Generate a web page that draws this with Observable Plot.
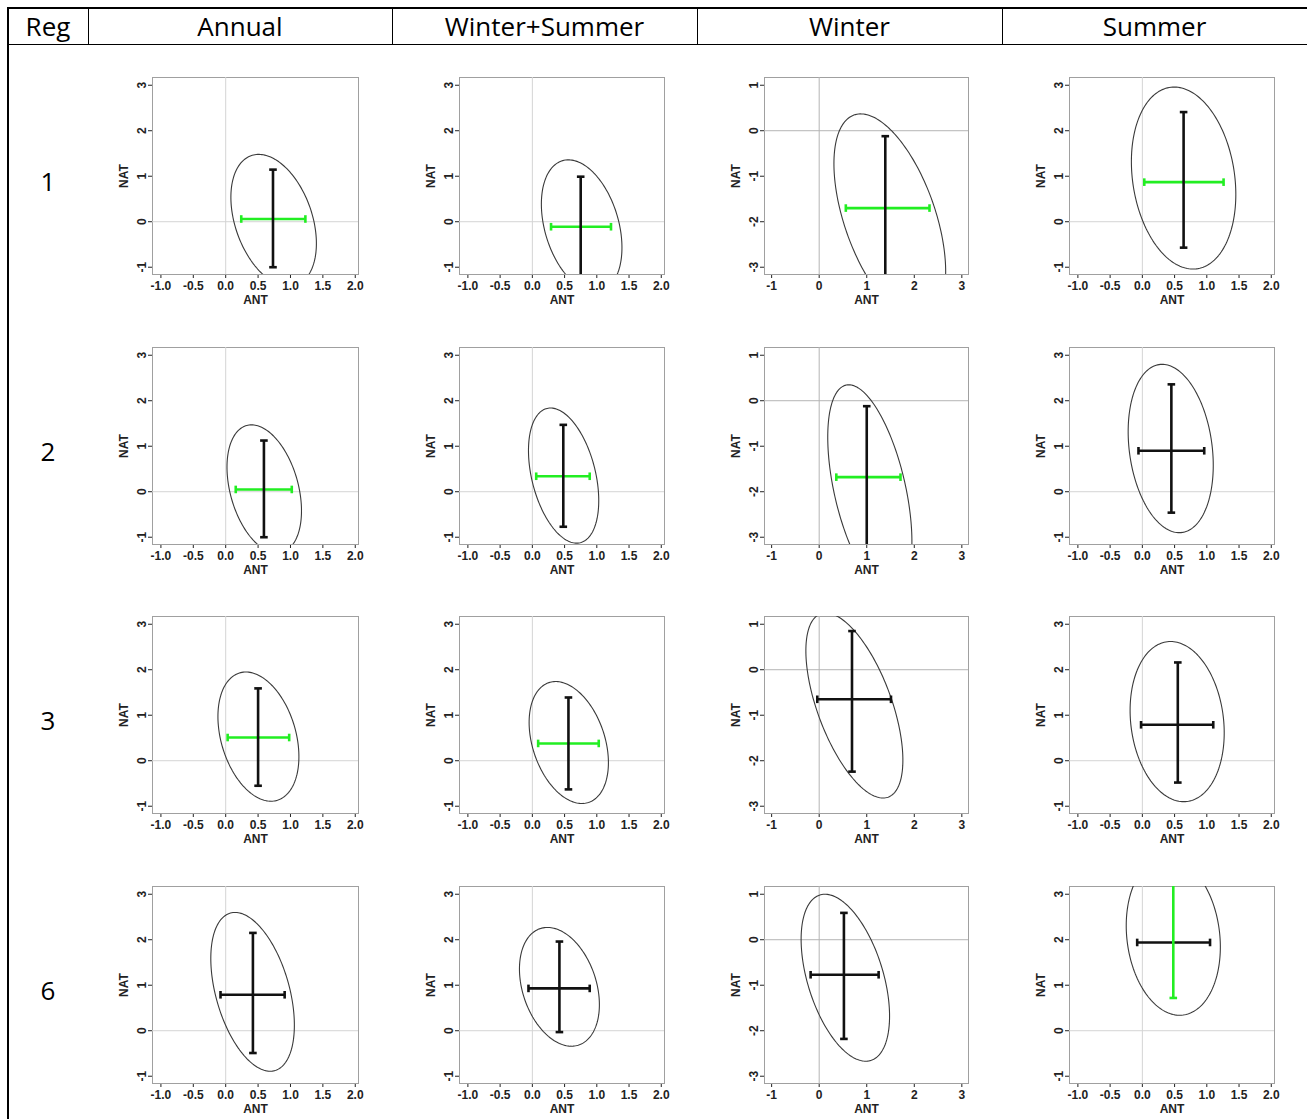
<!DOCTYPE html>
<html><head><meta charset="utf-8">
<script src="https://cdn.jsdelivr.net/npm/d3@7"></script>
<script src="https://cdn.jsdelivr.net/npm/@observablehq/plot@0.6"></script>
<style>
html,body{margin:0;padding:0;background:#fff;}
#page{position:relative;width:1307px;height:1119px;overflow:hidden;background:#fff;font-family:"Open Sans",sans-serif;color:#000;}
.ln{position:absolute;background:#000;}
.hdr{position:absolute;top:8px;height:36px;line-height:36px;text-align:center;font-size:26px;}
.rowlab{position:absolute;left:8px;width:80px;height:36px;line-height:36px;text-align:center;font-size:26px;}
.panel{position:absolute;}
</style></head><body><div id="page"></div>
<script>
// ---- data ----
const regions = ["1", "2", "3", "6"];
const seasons = ["Annual", "Winter+Summer", "Winter", "Summer"];

// one value per panel, region-major: R1 Annual, R1 Winter+Summer, R1 Winter, R1 Summer, R2 ..., R3 ..., R6 ...
const antBest  = [0.73, 0.75, 1.39, 0.64,  0.59, 0.48, 1.00, 0.45,  0.50, 0.56, 0.69, 0.55,  0.42, 0.42, 0.52, 0.48];
const natBest  = [0.06, -0.11, -1.70, 0.87,  0.05, 0.34, -1.68, 0.90,  0.51, 0.38, -0.65, 0.79,  0.79, 0.93, -0.77, 1.94];
const antLow   = [0.24, 0.29, 0.56, 0.03,  0.155, 0.06, 0.36, -0.06,  0.03, 0.09, -0.04, -0.02,  -0.08, -0.06, -0.18, -0.08];
const antHigh  = [1.23, 1.22, 2.32, 1.26,  1.02, 0.89, 1.71, 0.96,  0.98, 1.03, 1.51, 1.10,  0.91, 0.89, 1.25, 1.05];
const natLow   = [-1.0, -1.3, -3.5, -0.57,  -1.0, -0.77, -3.5, -0.46,  -0.55, -0.63, -2.24, -0.48,  -0.49, -0.03, -2.18, 0.72];
const natHigh  = [1.145, 0.99, -0.12, 2.41,  1.125, 1.47, -0.12, 2.36,  1.59, 1.39, 0.85, 2.16,  2.15, 1.96, 0.59, 3.4];
const antSig   = ["green","green","green","green",  "green","green","green","black",  "green","green","black","black",  "black","black","black","black"];
const natSig   = ["black","black","black","black",  "black","black","black","black",  "black","black","black","black",  "black","black","black","green"];
// joint confidence ellipse: centre, half-extent along ANT, half-extent along NAT, correlation
const ellAnt     = [0.74, 0.765, 1.485, 0.64,  0.595, 0.485, 1.065, 0.44,  0.505, 0.565, 0.74, 0.54,  0.415, 0.42, 0.55, 0.48];
const ellNat     = [0.03, -0.09, -1.91, 0.96,  0.06, 0.355, -1.95, 0.95,  0.53, 0.40, -0.785, 0.86,  0.855, 0.965, -0.835, 2.075];
const ellAntHalf = [0.66, 0.625, 1.175, 0.81,  0.575, 0.545, 0.885, 0.66,  0.625, 0.615, 1.02, 0.73,  0.645, 0.62, 0.93, 0.73];
const ellNatHalf = [1.45, 1.45, 2.28, 2.0,  1.41, 1.485, 2.3, 1.85,  1.42, 1.34, 2.035, 1.76,  1.745, 1.305, 1.835, 1.735];
const ellCorr    = [-0.35, -0.33, -0.52, -0.18,  -0.34, -0.37, -0.5, -0.2,  -0.31, -0.33, -0.59, -0.14,  -0.42, -0.3, -0.46, -0.135];

const antTicksStd = [-1, -0.5, 0, 0.5, 1, 1.5, 2];
const antTicksWinter = [-1, 0, 1, 2, 3];
const natTicksStd = [-1, 0, 1, 2, 3];
const natTicksWinter = [-3, -2, -1, 0, 1];
const zeroLine = [0];

// ---- layout ----
const colors = {green: "#22ee22", black: "#111111"};
const page = document.getElementById("page");
function addDiv(cls, css, text) {
  const d = document.createElement("div");
  d.className = cls;
  Object.assign(d.style, css);
  if (text != null) d.textContent = text;
  page.appendChild(d);
  return d;
}
const colEdges = [8, 88, 392, 697, 1002, 1307];
// borders
addDiv("ln", {left: "7px", top: "7px", width: "1300px", height: "1.5px"});
addDiv("ln", {left: "7px", top: "43.5px", width: "1300px", height: "1.5px"});
addDiv("ln", {left: "7px", top: "7px", width: "1.5px", height: "1112px"});
for (const x of colEdges.slice(1, 5)) addDiv("ln", {left: (x - 0.5) + "px", top: "7px", width: "1.5px", height: "38px"});
// header
const headers = ["Reg", ...seasons];
headers.forEach((h, k) => addDiv("hdr", {left: colEdges[k] + "px", width: (colEdges[k + 1] - colEdges[k]) + "px"}, h));

const frameLeft = [152, 459, 764, 1069];
const frameWidth = [206, 205, 204, 205];
const frameTop = [77, 346.5, 616, 885.5];
const frameH = 197;
const mL = 70, mR = 14, mT = 25, mB = 42;

regions.forEach((reg, r) => addDiv("rowlab", {top: (frameTop[r] + 86) + "px"}, reg));

const hCap = {draw(ctx, size) { const h = Math.sqrt(size / Math.PI); ctx.moveTo(-h, 0); ctx.lineTo(h, 0); }};
const vCap = {draw(ctx, size) { const h = Math.sqrt(size / Math.PI); ctx.moveTo(0, -h); ctx.lineTo(0, h); }};

function ellipse(i) {
  const cx = ellAnt[i], cy = ellNat[i], ax = ellAntHalf[i], ay = ellNatHalf[i], rho = ellCorr[i];
  const s = Math.sqrt(1 - rho * rho);
  return d3.range(0, 361, 2).map(deg => {
    const t = deg * Math.PI / 180;
    return {ant: cx + ax * Math.cos(t), nat: cy + ay * (rho * Math.cos(t) + s * Math.sin(t))};
  });
}

const fmt1 = d => d.toFixed(1);
const fmt0 = d => String(d);

regions.forEach((reg, r) => {
  seasons.forEach((season, c) => {
    const i = r * 4 + c;
    const winter = season === "Winter";
    const p = {ant: antBest[i], nat: natBest[i], antLo: antLow[i], antHi: antHigh[i], natLo: natLow[i], natHi: natHigh[i]};
    const vCol = colors[natSig[i]], hCol = colors[antSig[i]];
    const vEnds = [{ant: p.ant, nat: p.natLo}, {ant: p.ant, nat: p.natHi}];
    const hEnds = [{ant: p.antLo, nat: p.nat}, {ant: p.antHi, nat: p.nat}];
    const grid = winter ? "#b4b4b4" : "#d4d4d4";
    const w = mL + frameWidth[c] + mR, h = mT + frameH + mB;
    const chart = Plot.plot({
      width: w, height: h,
      marginLeft: mL, marginRight: mR, marginTop: mT, marginBottom: mB,
      style: {background: "none", color: "#222", fontFamily: "'Liberation Sans', Arial, sans-serif", fontSize: "12px", fontWeight: "bold", overflow: "visible"},
      x: {domain: winter ? [-1.15, 3.14] : [-1.13, 2.05], ticks: winter ? antTicksWinter : antTicksStd,
          tickFormat: winter ? fmt0 : fmt1, tickSize: 4, tickPadding: 3, label: null, line: true},
      y: {domain: winter ? [-3.16, 1.17] : [-1.16, 3.17], ticks: winter ? natTicksWinter : natTicksStd,
          tickFormat: fmt0, tickSize: 4, tickPadding: 3, tickRotate: -90, label: null, line: true},
      marks: [
        Plot.frame({stroke: "#a0a0a0"}),
        Plot.ruleX(zeroLine, {stroke: grid, strokeWidth: 1}),
        Plot.ruleY(zeroLine, {stroke: grid, strokeWidth: 1}),
        Plot.line(ellipse(i), {x: "ant", y: "nat", stroke: "#3a3a3a", strokeWidth: 1.1, clip: true}),
        Plot.ruleY([p], {y: "nat", x1: "antLo", x2: "antHi", stroke: hCol, strokeWidth: 2.6, clip: true}),
        Plot.dot(hEnds, {x: "ant", y: "nat", symbol: vCap, r: 3.8, fill: "none", stroke: hCol, strokeWidth: 2.6, clip: true}),
        Plot.ruleX([p], {x: "ant", y1: "natLo", y2: "natHi", stroke: vCol, strokeWidth: 2.6, clip: true}),
        Plot.dot(vEnds, {x: "ant", y: "nat", symbol: hCap, r: 3.8, fill: "none", stroke: vCol, strokeWidth: 2.6, clip: true}),
        Plot.text(["NAT"], {frameAnchor: "left", dx: -28, rotate: -90, text: d => d, textAnchor: "middle", lineAnchor: "middle", fontWeight: "bold", fontSize: 12, fill: "#222"}),
        Plot.text(["ANT"], {frameAnchor: "bottom", dy: 26, text: d => d, textAnchor: "middle", lineAnchor: "middle", fontWeight: "bold", fontSize: 12, fill: "#222"})
      ]
    });
    const holder = addDiv("panel", {left: (frameLeft[c] - mL) + "px", top: (frameTop[r] - mT) + "px", width: w + "px", height: h + "px"});
    holder.appendChild(chart);
  });
});
</script></body></html>
